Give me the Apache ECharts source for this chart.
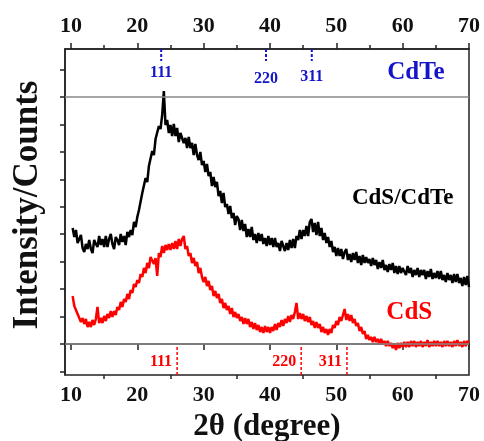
<!DOCTYPE html>
<html>
<head>
<meta charset="utf-8">
<script src="https://cdn.jsdelivr.net/npm/echarts@6/dist/echarts.min.js"></script>
<style>html,body{margin:0;padding:0;background:#fff}#c{width:484px;height:441px}</style>
</head>
<body>
<div id="c"></div>
<script>
// ---- data ----
const xStart = 10.25, xStep = 0.25;            // 2θ sampling grid
const cdsCdTe = [                               // black curve, intensity (a.u.)
 116,107,114,101,105,109,96,92,100,95,104,95,91,104,100,97,108,99,105,97,
 108,97,105,110,100,95,107,104,99,110,102,108,99,112,107,114,109,122,117,127,
 134,134,151,150,166,162,178,179,193,189,205,204,218,215,229,253,219,224,211,219,
 208,220,208,216,202,211,213,201,206,196,207,196,201,189,200,189,184,192,179,183,
 172,180,168,172,158,167,157,162,148,153,141,151,137,140,130,138,126,131,119,128,
 125,114,124,113,120,107,115,107,117,104,110,101,111,103,110,100,106,98,108,99,
 106,97,106,97,101,93,103,105,93,101,94,104,96,105,96,108,104,114,105,114,
 108,118,108,122,125,112,121,109,122,108,116,104,111,101,107,97,103,92,97,88,
 96,88,95,85,92,95,84,90,82,91,84,92,81,88,79,89,81,87,81,85,
 78,86,79,84,75,82,76,84,74,79,72,80,74,81,71,78,70,78,71,76,
 77,69,78,71,76,67,74,69,76,67,74,69,74,65,73,67,75,65,71,66,
 73,65,73,64,69,62,71,64,69,61,70,62,70,61,66,58,67,59,68,57
];
const cds = [                                   // red curve, intensity (a.u.)
 48,38,39,30,29,22,26,20,25,17,22,17,24,19,25,37,21,26,21,28,
 23,30,26,33,27,33,29,37,34,42,37,45,42,50,45,54,51,60,57,64,
 61,70,67,76,71,81,76,87,89,80,86,68,91,87,98,91,99,94,100,94,
 101,95,103,95,105,98,105,108,95,98,88,91,81,86,78,82,71,76,67,62,
 67,58,63,54,58,48,53,46,50,41,45,36,41,34,38,30,36,27,32,26,
 30,23,27,20,26,20,25,17,22,15,21,14,19,12,17,11,18,12,17,11,
 17,13,20,14,21,17,24,18,25,21,28,22,29,25,32,41,25,31,25,30,
 23,28,22,27,19,23,16,22,16,20,12,17,11,15,9,15,11,19,16,23,
 19,27,23,29,35,24,30,23,29,21,25,18,21,13,17,10,13,5,9,4,
 7,2,7,2,5,0,5,0,3,-2,3,-2,1,-4,0,-6,1,-4,1,-3,
 2,-3,2,-3,3,-2,3,-3,2,-2,3,-3,2,-2,4,-3,2,-2,3,-2,
 3,-2,2,-3,3,-2,3,-2,2,-3,3,-2,4,-2,2,-3,3,-2,3,1
];
const refLevels = [0, 247];                     // grey baselines (CdS, CdTe)
const hkl = ['111', '220', '311'];
const cdtePeaks = [23.6, 39.4, 46.3];           // CdTe reference 2θ
const cdsPeaks = [26.0, 44.7, 51.6];            // CdS reference 2θ
const cdteLabelLevel = [271, 265, 267];
const cdsLabelLevel = -18;
const xMajor = [10, 20, 30, 40, 50, 60, 70];
const xMinor = [15, 25, 35, 45, 55, 65];
const yTicks = [-27.44, 0, 27.44, 54.89, 82.33, 109.78, 137.22, 164.67, 192.11, 219.56, 247, 274.44];
const sampleNames = [['CdTe', 62.0, 271], ['CdS/CdTe', 60.0, 146], ['CdS', 61.0, 31]];

// ---- chart ----
const FONT = 'Liberation Serif';
const BLUE = '#1414c8', RED = '#ff0000', AX = '#222';
const xMin = 9.1, xMax = 70, yMin = -31, yMax = 295;

const blackData = cdsCdTe.map((v, i) => [xStart + i * xStep, v]);
const redData = cds.map((v, i) => [xStart + i * xStep, v]);

function segs(xs, y0, y1) {
  const out = [];
  xs.forEach(x => { out.push([x, y0], [x, y1], [x, '-']); });
  return out;
}

function xAx(pos, ticks, len, labels, extra) {
  return Object.assign({
    type: 'value', position: pos, min: xMin, max: xMax,
    axisLine: { show: labels, lineStyle: { color: AX, width: 1.5 } },
    axisTick: { show: true, inside: false, length: len, customValues: ticks, lineStyle: { color: AX, width: 1.5 } },
    axisLabel: labels ? { show: true, customValues: xMajor, fontFamily: FONT, fontWeight: 'bold', fontSize: 22, color: '#111', margin: pos === 'top' ? 12 : 9 } : { show: false },
    splitLine: { show: false }
  }, extra || {});
}

const chart = echarts.init(document.getElementById('c'), null, { renderer: 'canvas' });
chart.setOption({
  animation: false,
  backgroundColor: '#fff',
  grid: { left: 65, right: 15, top: 49, bottom: 66, show: true, borderColor: AX, borderWidth: 1.5, containLabel: false, outerBoundsMode: 'none' },
  xAxis: [
    xAx('bottom', xMajor, 6, true, {
      name: '2θ (degree)', nameLocation: 'middle', nameGap: 36,
      nameTextStyle: { fontFamily: FONT, fontWeight: 'bold', fontSize: 31, color: '#111' }
    }),
    xAx('bottom', xMinor, 4, false),
    xAx('top', xMajor, 6, true),
    xAx('top', xMinor, 4, false)
  ],
  yAxis: [{
    type: 'value', min: yMin, max: yMax,
    name: 'Intensity/Counts', nameLocation: 'middle', nameGap: 20,
    nameTextStyle: { fontFamily: FONT, fontWeight: 'bold', fontSize: 35, color: '#111', padding: [0, 0, 0, 14] },
    axisLine: { show: true, lineStyle: { color: AX, width: 1.5 } },
    axisTick: { show: true, inside: false, length: 5, customValues: yTicks, lineStyle: { color: AX, width: 1.5 } },
    axisLabel: { show: false },
    splitLine: { show: false }
  }],
  series: [
    {
      type: 'line', data: [], silent: true, z: 1,
      markLine: {
        silent: true, symbol: 'none', label: { show: false },
        lineStyle: { color: '#888', width: 1.5, type: 'solid' },
        data: refLevels.map(v => ({ yAxis: v }))
      }
    },
    {
      name: 'CdS/CdTe', type: 'line', data: blackData, showSymbol: false, z: 3,
      lineStyle: { color: '#000', width: 2.5 }, itemStyle: { color: '#000' }
    },
    {
      name: 'CdS', type: 'line', data: redData, showSymbol: false, z: 3,
      lineStyle: { color: RED, width: 2.5 }, itemStyle: { color: RED }
    },
    {
      type: 'line', data: segs(cdtePeaks, 295, 283), showSymbol: false, connectNulls: false, z: 4,
      lineStyle: { color: BLUE, width: 2, type: [3, 2] }
    },
    {
      type: 'line', data: segs(cdsPeaks, -3, -31), showSymbol: false, connectNulls: false, z: 4,
      lineStyle: { color: RED, width: 1.5, type: [3, 2] }
    },
    {
      type: 'scatter', symbolSize: 0, z: 5, itemStyle: { opacity: 1 },
      data: cdtePeaks.map((x, i) => ({ value: [x, cdteLabelLevel[i]], name: hkl[i] })),
      label: { show: true, position: 'inside', formatter: p => p.name, fontFamily: FONT, fontWeight: 'bold', fontSize: 16, color: BLUE }
    },
    {
      type: 'scatter', symbolSize: 0, z: 5, itemStyle: { opacity: 1 },
      data: cdsPeaks.map((x, i) => ({ value: [x, cdsLabelLevel], name: hkl[i] })),
      label: { show: true, position: 'left', distance: 5, formatter: p => p.name, fontFamily: FONT, fontWeight: 'bold', fontSize: 16, color: RED }
    },
    {
      type: 'scatter', symbolSize: 0, z: 5, itemStyle: { opacity: 1 },
      data: sampleNames.map((s, i) => ({
        value: [s[1], s[2]], name: s[0],
        label: { color: [BLUE, '#000', RED][i], fontSize: [25, 23, 25][i] }
      })),
      label: { show: true, position: 'inside', formatter: p => p.name, fontFamily: FONT, fontWeight: 'bold' }
    }
  ]
});
</script>
</body>
</html>
